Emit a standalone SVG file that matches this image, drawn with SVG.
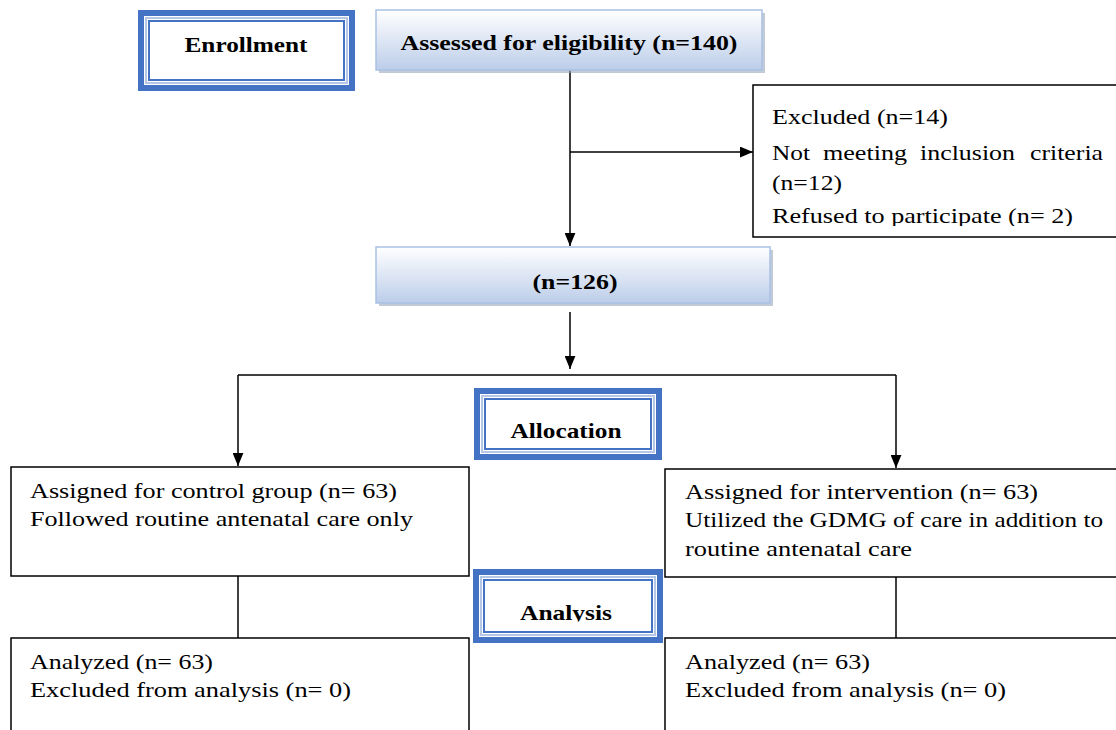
<svg xmlns="http://www.w3.org/2000/svg" width="1116" height="730" viewBox="0 0 1116 730">
  <defs>
    <linearGradient id="blueGrad" x1="0" y1="0" x2="0" y2="1">
      <stop offset="0" stop-color="#ffffff"/>
      <stop offset="1" stop-color="#bccde9"/>
    </linearGradient>
    <marker id="arrow" viewBox="0 0 12 10" refX="12" refY="5" markerWidth="13" markerHeight="11" markerUnits="userSpaceOnUse" orient="auto">
      <path d="M0,0 L12,5 L0,10 Z" fill="#000"/>
    </marker>
    <clipPath id="clipRefused"><rect x="760" y="90" width="356" height="136"/></clipPath>
    <clipPath id="clipAnalysis"><rect x="480" y="590" width="176" height="31.5"/></clipPath>
  </defs>
  <style>
    .bold { font-family: "Liberation Serif", "Times New Roman", serif; font-weight: bold; font-size: 21px; fill: #000; }
    .reg { font-family: "Liberation Serif", "Times New Roman", serif; font-size: 22px; fill: #000; }
    .plain { fill: #fff; stroke: #000; stroke-width: 1.5; }
    .grad { fill: url(#blueGrad); stroke: #a9c1e6; stroke-width: 1.5; }
    .shadow { fill: #9aa7bb; opacity: 0.6; }
    .outerBlue { fill: #fff; stroke: #4472c4; stroke-width: 6; }
    .innerBlue { fill: none; stroke: #4472c4; stroke-width: 2; }
    .halo { fill: none; stroke: #b4c7e7; stroke-width: 2; }
    .conn { fill: none; stroke: #000; stroke-width: 1.5; }
  </style>

  <g id="connectors">
    <line class="conn" x1="570" y1="70" x2="570" y2="246" marker-end="url(#arrow)"/>
    <line class="conn" x1="570" y1="152" x2="753" y2="152" marker-end="url(#arrow)"/>
    <line class="conn" x1="570" y1="312" x2="570" y2="369" marker-end="url(#arrow)"/>
    <polyline class="conn" points="238,375 896,375"/>
    <line class="conn" x1="238" y1="375" x2="238" y2="466" marker-end="url(#arrow)"/>
    <line class="conn" x1="896" y1="375" x2="896" y2="468" marker-end="url(#arrow)"/>
    <line class="conn" x1="238" y1="576" x2="238" y2="638"/>
    <line class="conn" x1="896" y1="577" x2="896" y2="638"/>
  </g>

  <g id="enrollment">
    <rect class="outerBlue" x="141" y="13" width="211" height="75"/>
    <rect class="halo" x="146" y="18" width="201" height="65"/>
    <rect class="innerBlue" x="149" y="21" width="195" height="59"/>
    <text class="bold" x="246" y="52" text-anchor="middle" textLength="123" lengthAdjust="spacingAndGlyphs">Enrollment</text>
  </g>

  <g id="assessed">
    <rect class="shadow" x="379" y="13" width="386" height="60"/>
    <rect class="grad" x="376" y="10" width="386" height="60"/>
    <text class="bold" x="569" y="50" text-anchor="middle" textLength="337" lengthAdjust="spacingAndGlyphs">Assessed for eligibility (n=140)</text>
  </g>

  <g id="excluded">
    <rect class="plain" x="753" y="85" width="370" height="152"/>
    <text class="reg" x="772" y="124" textLength="176" lengthAdjust="spacingAndGlyphs">Excluded (n=14)</text>
    <text class="reg" y="160"><tspan x="772" textLength="38" lengthAdjust="spacingAndGlyphs">Not</tspan> <tspan x="823" textLength="84" lengthAdjust="spacingAndGlyphs">meeting</tspan> <tspan x="920" textLength="95" lengthAdjust="spacingAndGlyphs">inclusion</tspan> <tspan x="1030" textLength="73" lengthAdjust="spacingAndGlyphs">criteria</tspan></text>
    <text class="reg" x="772" y="190" textLength="70" lengthAdjust="spacingAndGlyphs">(n=12)</text>
    <text class="reg" x="772" y="223" textLength="301" lengthAdjust="spacingAndGlyphs" clip-path="url(#clipRefused)">Refused to participate (n= 2)</text>
  </g>

  <g id="n126">
    <rect class="shadow" x="379" y="250" width="394" height="56"/>
    <rect class="grad" x="376" y="247" width="394" height="56"/>
    <text class="bold" x="575" y="289" text-anchor="middle" textLength="85" lengthAdjust="spacingAndGlyphs">(n=126)</text>
  </g>

  <g id="allocation">
    <rect class="outerBlue" x="477" y="391" width="182" height="66"/>
    <rect class="halo" x="482" y="396" width="172" height="56"/>
    <rect class="innerBlue" x="485" y="399" width="166" height="50"/>
    <text class="bold" x="566" y="438" text-anchor="middle" textLength="111" lengthAdjust="spacingAndGlyphs">Allocation</text>
  </g>

  <g id="control">
    <rect class="plain" x="11" y="467" width="458" height="109"/>
    <text class="reg" x="30" y="498" textLength="367" lengthAdjust="spacingAndGlyphs">Assigned for control group (n= 63)</text>
    <text class="reg" x="30" y="526" textLength="383" lengthAdjust="spacingAndGlyphs">Followed routine antenatal care only</text>
  </g>

  <g id="intervention">
    <rect class="plain" x="665" y="469" width="460" height="108"/>
    <text class="reg" x="685" y="499" textLength="353" lengthAdjust="spacingAndGlyphs">Assigned for intervention (n= 63)</text>
    <text class="reg" x="685" y="527" textLength="418" lengthAdjust="spacingAndGlyphs">Utilized the GDMG of care in addition to</text>
    <text class="reg" x="685" y="556" textLength="227" lengthAdjust="spacingAndGlyphs">routine antenatal care</text>
  </g>

  <g id="analysis">
    <rect class="outerBlue" x="476" y="572" width="184" height="68"/>
    <rect class="halo" x="481" y="577" width="174" height="58"/>
    <rect class="innerBlue" x="484" y="580" width="168" height="52"/>
    <text class="bold" x="566" y="620" text-anchor="middle" textLength="92" lengthAdjust="spacingAndGlyphs" clip-path="url(#clipAnalysis)">Analysis</text>
  </g>

  <g id="analyzedControl">
    <rect class="plain" x="11" y="638" width="458" height="110"/>
    <text class="reg" x="30" y="669" textLength="183" lengthAdjust="spacingAndGlyphs">Analyzed (n= 63)</text>
    <text class="reg" x="30" y="697" textLength="321" lengthAdjust="spacingAndGlyphs">Excluded from analysis (n= 0)</text>
  </g>

  <g id="analyzedIntervention">
    <rect class="plain" x="665" y="638" width="460" height="110"/>
    <text class="reg" x="685" y="669" textLength="185" lengthAdjust="spacingAndGlyphs">Analyzed (n= 63)</text>
    <text class="reg" x="685" y="697" textLength="321" lengthAdjust="spacingAndGlyphs">Excluded from analysis (n= 0)</text>
  </g>
</svg>
